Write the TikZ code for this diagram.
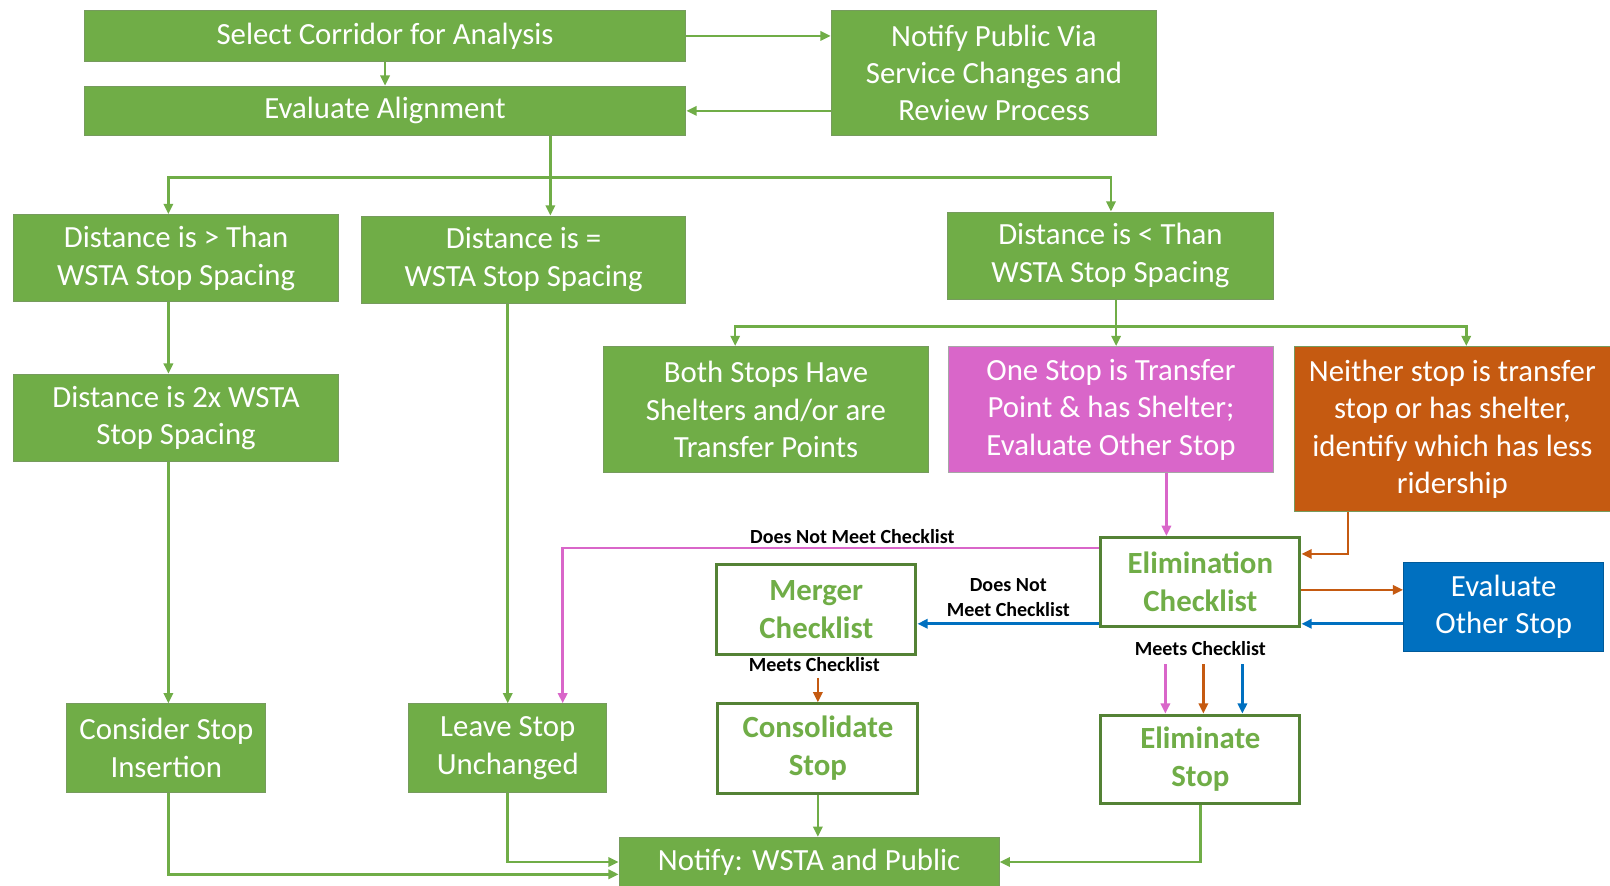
\documentclass[tikz,border=0pt]{standalone}
\usepackage{fontspec}
\setmainfont{Carlito}
\usetikzlibrary{arrows.meta}
\definecolor{gfill}{HTML}{70AD47}
\definecolor{gline}{HTML}{548235}
\definecolor{pfill}{HTML}{D966C9}
\definecolor{ofill}{HTML}{C55A11}
\definecolor{bfill}{HTML}{0070C0}

\begin{document}
\begin{tikzpicture}[x=1pt,y=-1pt,
    box/.style={draw=gline!80,line width=1pt,fill=gfill,text=white,align=center,inner sep=0pt,font=\fontsize{30}{36.5}\selectfont},
    chk/.style={draw=gline,line width=3pt,fill=white,text=gfill,align=center,inner sep=0pt,font=\fontsize{30}{37}\selectfont\bfseries},
    lab/.style={text=black,font=\fontsize{19.5}{24}\selectfont\bfseries,align=center,inner sep=2pt},
    arr/.style={-{Triangle[length=10pt,width=9pt]},line width=2.5pt,gfill},
    arrP/.style={arr,pfill},
    arrO/.style={arr,ofill},
    arrB/.style={arr,bfill}]
\useasboundingbox (0,0) rectangle (1568,862);

\node[box,minimum width=586,minimum height=50] (sel) at (375,35) {Select Corridor for Analysis};
\node[box,minimum width=586,minimum height=48] (eval) at (375,108) {Evaluate Alignment};
\node[box,minimum width=317,minimum height=122] (pub) at (968,71) {Notify Public Via\\Service Changes and\\Review Process};

\node[box,minimum width=317,minimum height=85] (gt) at (171.5,251.5) {Distance is > Than\\WSTA Stop Spacing};
\node[box,minimum width=316,minimum height=85] (eq) at (510,253) {Distance is =\\WSTA Stop Spacing};
\node[box,minimum width=317,minimum height=85] (lt) at (1081.5,249) {Distance is < Than\\WSTA Stop Spacing};
\node[box,minimum width=317,minimum height=85] (twox) at (171.5,407) {Distance is 2x WSTA\\Stop Spacing};

\node[box,minimum width=316,minimum height=123] (both) at (746,399) {Both Stops Have\\Shelters and/or are\\Transfer Points};
\node[box,fill=pfill,draw=gray!70,minimum width=316,minimum height=123] (one) at (1082,399) {One Stop is Transfer\\Point \& has Shelter;\\Evaluate Other Stop};
\node[box,fill=ofill,minimum width=307,minimum height=161] (neither) at (1414.5,418) {Neither stop is transfer\\stop or has shelter,\\identify which has less\\ridership};

\node[chk,minimum width=194,minimum height=87] (elim) at (1169,567) {Elimination\\Checklist};
\node[box,fill=bfill,draw=bfill!80!black,minimum width=195,minimum height=87] (other) at (1464.5,591) {Evaluate\\Other Stop};
\node[chk,minimum width=194,minimum height=88] (merger) at (795,593.5) {Merger\\Checklist};

\node[box,minimum width=194,minimum height=86] (consider) at (162,728.5) {Consider Stop\\Insertion};
\node[box,minimum width=193,minimum height=86] (leave) at (494.5,728.5) {Leave Stop\\Unchanged};
\node[chk,minimum width=195,minimum height=87] (consol) at (796.5,729) {Consolidate\\Stop};
\node[chk,minimum width=194,minimum height=86] (elimstop) at (1169,739.5) {Eliminate\\Stop};
\node[box,minimum width=370,minimum height=48] (notify) at (788,839.5) {Notify: WSTA and Public};

\node[lab] (mlab) at (793,647) {Meets Checklist};
\node[lab] (elab) at (1169,632) {Meets Checklist};

\coordinate (split) at (536,173);
\coordinate (bl) at (164,173);
\coordinate (br) at (1082,173);
\coordinate (sp) at (1087,318);
\coordinate (sl) at (716,318);
\coordinate (sr) at (1428,318);

\draw[arr] (sel.east) -- (sel.east -| pub.west);
\draw[arr] (pub.west |- eval.east) -- (eval.east);
\draw[arr] (sel.south) -- (eval.north);
\draw[arr] (eval.south -| split) -- (split |- eq.north);
\draw[arr] (split) -- (bl) -- (bl |- gt.north);
\draw[arr] (split) -- (br) -- (br |- lt.north);
\draw[arr] (bl |- gt.south) -- (bl |- twox.north);
\draw[arr] (bl |- twox.south) -- (bl |- consider.north);
\draw[arr] (leave.north |- eq.south) -- (leave.north);

\draw[arr] (sp |- lt.south) -- (sp |- one.north);
\draw[arr] (sp) -- (sl) -- (sl |- both.north);
\draw[arr] (sp) -- (sr) -- (sr |- neither.north);

\draw[arrP] ([xshift=54]one.south) -- ([xshift=-33]elim.north);
\draw[arrO] ([xshift=-101.5]neither.south) |- ([yshift=27.5]elim.east);
\draw[arrO] ([yshift=-7.5]elim.east) -- ([yshift=16.5]other.west);
\draw[arrB] ([yshift=-16.5]other.west) -- ([yshift=-40.5]elim.east);
\draw[arrB] ([yshift=-40.5]elim.west) -- ([yshift=-14]merger.east)
    node[lab,midway,above=4pt] {Does Not\\Meet Checklist};
\draw[arrP] ([yshift=33.5]elim.west) -| ([xshift=53.5]leave.north)
    node[lab,pos=0.23,above=1pt] {Does Not Meet Checklist};

\draw[arrO] ([yshift=-4]mlab.south -| consol.north) -- (consol.north);
\draw[arrP] ([xshift=-34,yshift=-6]elab.south) -- ([xshift=-34]elimstop.north);
\draw[arrO] ([xshift=3,yshift=-6]elab.south) -- ([xshift=3]elimstop.north);
\draw[arrB] ([xshift=41,yshift=-6]elab.south) -- ([xshift=41]elimstop.north);

\draw[arr] (consol.south) -- (consol.south |- notify.north);
\draw[arr] (elimstop.south) |- (notify.east);
\draw[arr] (leave.south) |- (notify.west);
\draw[arr] (bl |- consider.south) |- ([yshift=-12]notify.west);
\end{tikzpicture}
\end{document}
